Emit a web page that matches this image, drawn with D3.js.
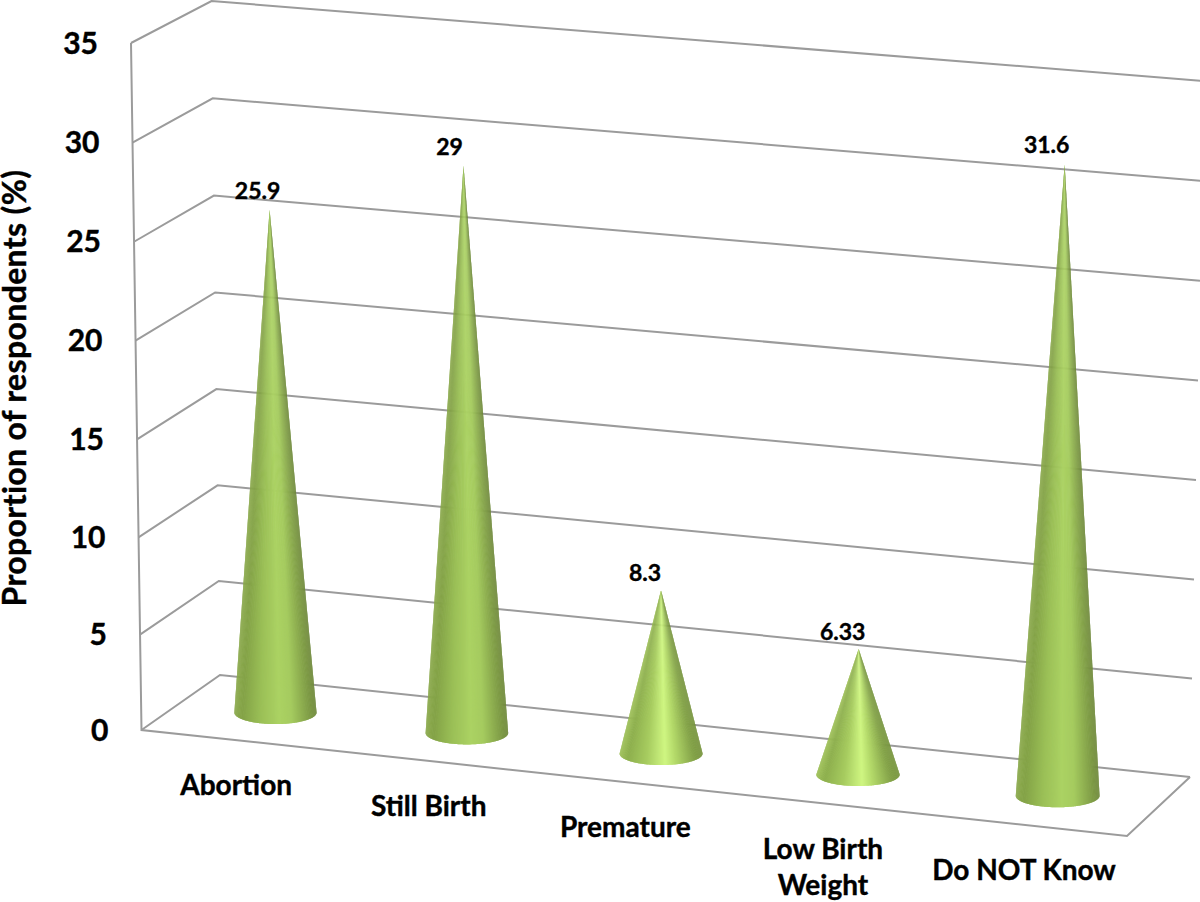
<!DOCTYPE html>
<html>
<head>
<meta charset="utf-8">
<script src="https://cdn.jsdelivr.net/npm/d3@7"></script>
<style>
	html, body { margin: 0; padding: 0; background: #fff; }
	svg { display: block; }
	text { font-family: Lato, "Open Sans", sans-serif; font-weight: 700; fill: #000; stroke: #000; stroke-width: 0.4px; }
</style>
</head>
<body>
<svg id="view"></svg>
<script>
var categories = [ ["Abortion"], ["Still Birth"], ["Premature"], ["Low Birth", "Weight"], ["Do NOT Know"] ];
var values = [ 25.9, 29, 8.3, 6.33, 31.6 ];
var valueLabels = [ "25.9", "29", "8.3", "6.33", "31.6" ];
var ticks = [ 0, 5, 10, 15, 20, 25, 30, 35 ];
var axisTitle = "Proportion of respondents (%)";

var width = 1200, height = 902;
var svg = d3.select("#view").attr("width", width).attr("height", height);

// the three upright edges of the box, value -> pixel
var frontLeftX = d3.scaleLinear().domain([0, 35]).range([141.5, 131]);
var frontLeftY = d3.scalePow().exponent(1.015).domain([0, 35]).range([730, 43]);
var backLeftX  = d3.scaleLinear().domain([0, 35]).range([220, 211.5]);
var backLeftY  = d3.scalePow().exponent(1.012).domain([0, 35]).range([675, 1]);
var backRightX = d3.scaleLinear().domain([0, 35]).range([1190, 1204]);
var backRightY = d3.scalePow().exponent(1.005).domain([0, 35]).range([777, 81]);
var frontRight = [1127, 836];

// floor: u runs along the categories, v runs front to back
function floor(u, v) {
	var front = d3.interpolate([frontLeftX(0), frontLeftY(0)], frontRight)(u);
	var back = d3.interpolate([backLeftX(0), backLeftY(0)], [backRightX(0), backRightY(0)])(u);
	return d3.interpolate(front, back)(v);
}

var band = d3.scaleBand().domain(d3.range(categories.length)).range([0, 1]);
// slot widths grow a little to the right in the 3D view
var warp = u => u - 0.035 * u * (1 - u);
var catU = i => warp(band(i) + band.bandwidth() / 2);

var unitHeight = d3.scaleLinear().domain([0, 1]).range([19.35, 20.05]);
var lean = d3.scaleLinear().domain([0, 1]).range([-0.28, 0.28]);
var rx = d3.scaleLinear().domain([0, 1]).range([41, 42]);
var ry = 11.5;

var line = d3.line();
var gridColor = "#9b9b9b";

// back walls
svg.append("g").selectAll("path").data(ticks).join("path")
	.attr("fill", "none").attr("stroke", gridColor).attr("stroke-width", 2)
	.attr("d", t => line([
		[frontLeftX(t), frontLeftY(t)],
		[backLeftX(t), backLeftY(t)],
		[backRightX(t), backRightY(t)]
	]));

// front left edge and floor outline
svg.append("path")
	.attr("fill", "none").attr("stroke", gridColor).attr("stroke-width", 2)
	.attr("d", line([
		[frontLeftX(35), frontLeftY(35)],
		[frontLeftX(0), frontLeftY(0)],
		frontRight,
		[backRightX(0), backRightY(0)]
	]));

// shading round the cone, -1 left edge, 1 right edge
var shade = d3.scaleLinear()
	.domain([-1, -0.8, -0.35, 0.1, 0.4, 0.8, 1])
	.range(["#8aa94b", "#84a347", "#9bc057", "#abd263", "#a5cb5f", "#82a048", "#6f893b"]);
var shadeShort = d3.scaleLinear()
	.domain([-1, -0.8, -0.35, 0.1, 0.35, 0.8, 1])
	.range(["#9dbf57", "#8eb04e", "#a7cc60", "#cff682", "#b4da6a", "#84a349", "#78953f"]);

var cones = svg.append("g").selectAll("g").data(values).join("g");

cones.each(function (v, i) {
	var u = catU(i);
	var base = floor(u, 0.5);
	var r = rx(u);
	var apex = [base[0] + v * lean(u), base[1] - v * unitHeight(u)];
	var color = v < 10 ? shadeShort : shade;
	var n = 120;
	var steps = d3.range(n);
	var ang = s => Math.PI - Math.PI * s / n;
	var rim = s => [base[0] + r * Math.cos(ang(s)), base[1] + ry * Math.sin(ang(s))];
	// each slice runs under the next one so no white seams show
	d3.select(this).selectAll("path").data(steps).join("path")
		.attr("d", s => line([apex, rim(s), rim(Math.min(s + 0.5, n)), rim(Math.min(s + 2, n))]) + "Z")
		.attr("fill", s => color(Math.cos(ang(s + 0.5))));
});

// value labels
var labelNudge = [ -12, -14, -16, -16, -18 ];
svg.append("g").selectAll("text").data(values).join("text")
	.attr("text-anchor", "middle")
	.attr("font-size", 23)
	.attr("x", (v, i) => floor(catU(i), 0.5)[0] + v * lean(catU(i)) + labelNudge[i])
	.attr("y", (v, i) => floor(catU(i), 0.5)[1] - v * unitHeight(catU(i)) - (v < 10 ? 9 : 11))
	.text((v, i) => valueLabels[i]);

// category labels hang under the front edge
var catNudge = [ 2, -2.5, -3, -2.5, 1.5 ];
var catLabels = svg.append("g").selectAll("text").data(categories).join("text")
	.attr("text-anchor", "middle")
	.attr("font-size", 28)
	.attr("transform", (c, i) => {
		var p = floor(band(i) + band.bandwidth() / 2 - 0.006, 0);
		return "translate(" + (p[0] + catNudge[i]) + "," + (p[1] + 55) + ")";
	});
catLabels.selectAll("tspan").data(c => c).join("tspan")
	.attr("x", 0)
	.attr("y", (d, i) => i * 36)
	.text(d => d);

// value axis
svg.append("g").selectAll("text").data(ticks).join("text")
	.attr("text-anchor", "end")
	.attr("font-size", 30)
	.attr("dominant-baseline", "middle")
	.attr("x", t => frontLeftX(t) - 33)
	.attr("y", t => frontLeftY(t) + 3)
	.text(t => t);

svg.append("text")
	.attr("text-anchor", "middle")
	.attr("font-size", 32)
	.attr("letter-spacing", 0.35)
	.attr("transform", "translate(26,388) rotate(-90)")
	.text(axisTitle);
</script>
</body>
</html>
